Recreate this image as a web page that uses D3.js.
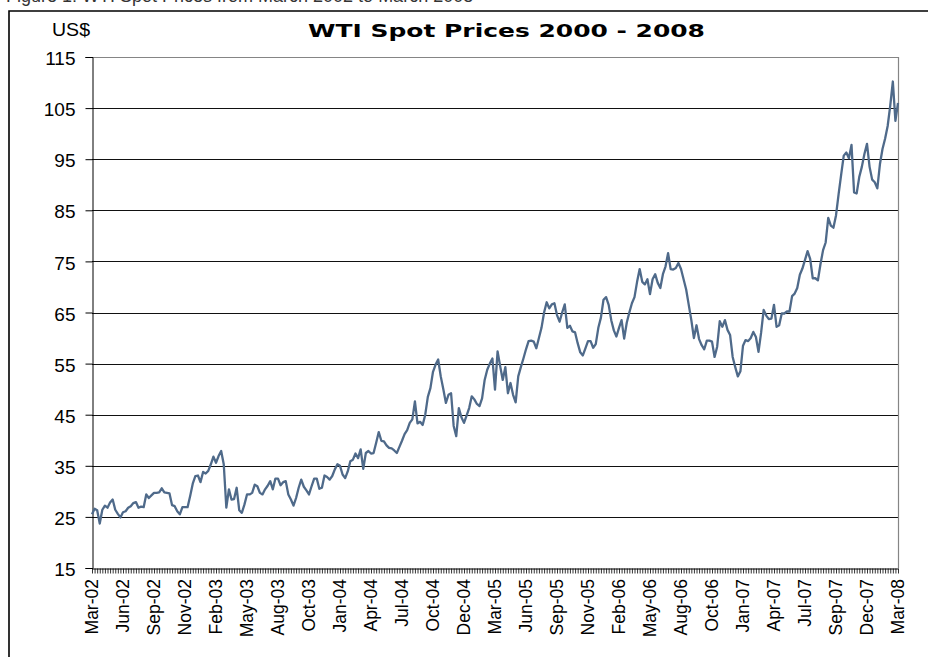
<!DOCTYPE html>
<html>
<head>
<meta charset="utf-8">
<script src="https://cdn.jsdelivr.net/npm/d3@7"></script>
<style>
  body { margin: 0; background: #fff; }
  svg { display: block; }
</style>
</head>
<body>
<div id="chart"></div>
<script>
var w = 928;
var h = 657;

// weekly WTI spot price, US$ (Mar-02 .. Mar-08)
var prices = [
  25.5, 26.6, 26.3, 23.7, 26.4, 27.2, 26.8, 27.8, 28.4, 26.4,
  25.6, 24.9, 25.9, 26.1, 26.8, 27.1, 27.7, 27.9, 26.8, 27.0,
  26.9, 29.4, 28.7, 29.2, 29.7, 29.7, 29.8, 30.6, 29.8, 29.7,
  29.6, 27.3, 27.1, 26.1, 25.5, 26.9, 26.9, 26.9, 29.1, 31.5,
  33.0, 33.1, 31.8, 33.8, 33.5, 34.0, 35.3, 36.8, 35.6, 36.9,
  37.9, 35.3, 26.8, 30.4, 28.4, 28.5, 30.7, 26.3, 25.8, 27.4,
  29.4, 29.4, 29.7, 31.3, 31.0, 29.7, 29.4, 30.4, 31.1, 32.0,
  30.4, 32.5, 32.5, 31.2, 31.8, 32.0, 29.4, 28.4, 27.2, 28.7,
  30.7, 32.3, 30.9, 30.2, 29.4, 31.0, 32.5, 32.5, 30.5, 30.7,
  33.1, 32.8, 32.3, 33.0, 34.3, 35.3, 35.0, 33.3, 32.6, 33.9,
  35.9, 36.2, 37.4, 36.5, 38.2, 34.4, 37.5, 37.9, 37.4, 37.5,
  39.5, 41.6, 39.9, 39.8, 39.0, 38.5, 38.4, 38.0, 37.5, 38.7,
  39.9, 41.2, 42.0, 43.4, 44.1, 47.6, 43.3, 43.6, 43.0, 45.0,
  48.5, 50.2, 53.4, 54.8, 55.8, 52.5, 50.0, 47.3, 48.9, 49.2,
  42.8, 40.8, 46.3, 44.5, 43.4, 44.8, 46.3, 48.6, 48.0, 47.1,
  46.7, 48.2, 51.8, 53.8, 55.0, 56.0, 49.9, 57.4, 54.5, 51.8,
  54.3, 49.2, 51.2, 48.9, 47.4, 52.5, 54.3, 56.0, 57.8, 59.4,
  59.5, 59.3, 58.0, 60.0, 62.0, 65.0, 67.0, 65.8, 66.6, 66.8,
  64.5, 63.2, 65.0, 66.6, 62.0, 62.4, 61.3, 61.1, 59.0, 57.2,
  56.6, 58.0, 59.4, 59.4, 58.1, 58.8, 62.0, 64.0, 67.5, 68.0,
  66.5, 63.5, 61.5, 60.3, 62.0, 63.5, 59.9, 63.0, 65.0, 66.8,
  68.0, 71.0, 73.5, 71.0, 70.5, 71.5, 68.6, 71.5, 72.5, 70.8,
  69.8, 72.5, 74.0, 76.6, 73.5, 73.4, 73.7, 74.7, 73.5, 71.5,
  69.5, 66.5, 63.5, 60.0, 62.5, 59.8, 58.6, 57.8, 59.5, 59.5,
  59.3, 56.3, 58.3, 63.3, 62.2, 63.5, 61.6, 60.6, 56.3, 54.3,
  52.5, 53.5, 58.5, 59.6, 59.4, 60.0, 61.2, 60.2, 57.3, 61.0,
  65.5, 64.4, 63.7, 63.8, 66.5, 62.2, 62.5, 64.8, 64.8, 65.2,
  65.2, 68.2, 68.7, 69.8, 72.4, 73.6, 75.3, 77.0, 75.5, 71.7,
  71.7, 71.3, 74.5, 77.2, 78.7, 83.5, 82.0, 81.6, 84.0, 88.1,
  92.0, 95.7, 96.3, 95.2, 97.8, 88.5, 88.3, 91.5, 93.5, 96.0,
  98.0, 93.5, 91.0, 90.5, 89.3, 94.0, 97.0, 99.0, 101.5, 105.5,
  110.2, 102.5, 106.0
];

// category labels shown every 12th week
var xLabels = [
  "Mar-02", "Jun-02", "Sep-02", "Nov-02", "Feb-03", "May-03", "Aug-03",
  "Oct-03", "Jan-04", "Apr-04", "Jul-04", "Oct-04", "Dec-04", "Mar-05",
  "Jun-05", "Sep-05", "Nov-05", "Feb-06", "May-06", "Aug-06", "Oct-06",
  "Jan-07", "Apr-07", "Jul-07", "Sep-07", "Dec-07", "Mar-08"
];
var labelStep = 12;

var yTicks = [15, 25, 35, 45, 55, 65, 75, 85, 95, 105, 115];

var plotLeft = 92, plotRight = 898, plotTop = 57, plotBottom = 568;

var xScale = d3
  .scaleLinear()
  .domain([0, prices.length - 1])
  .range([plotLeft, plotRight]);

var yScale = d3
  .scaleLinear()
  .domain([15, 115])
  .range([plotBottom, plotTop]);

var svg = d3.select("#chart").append("svg").attr("width", w).attr("height", h);

svg.append("rect").attr("width", w).attr("height", h).attr("fill", "#fff");

// caption cut off by the top of the picture
svg
  .append("text")
  .attr("x", 6)
  .attr("y", 2)
  .attr("font-family", "Liberation Sans, Arial, sans-serif")
  .attr("font-size", "18px")
  .attr("fill", "#333")
  .text("Figure 1: WTI Spot Prices from March 2002 to March 2008");

// outer chart border
svg
  .append("path")
  .attr("d", "M9," + (h + 2) + "V11H" + (w + 2))
  .attr("fill", "none")
  .attr("stroke", "#000")
  .attr("stroke-width", 1.6);

// gridlines
svg
  .selectAll("line.grid")
  .data(yTicks.slice(1, -1))
  .enter()
  .append("line")
  .attr("class", "grid")
  .attr("x1", plotLeft)
  .attr("x2", plotRight)
  .attr("y1", function (d) {
    return Math.round(yScale(d)) + 0.5;
  })
  .attr("y2", function (d) {
    return Math.round(yScale(d)) + 0.5;
  })
  .attr("stroke", "#111")
  .attr("stroke-width", 1);

// plot frame top and right
svg
  .append("path")
  .attr("d", "M" + plotLeft + "," + (plotTop + 0.5) + "H" + (plotRight + 0.5) + "V" + plotBottom)
  .attr("fill", "none")
  .attr("stroke", "#858585")
  .attr("stroke-width", 1.2);

// y axis
var yAxis = svg
  .append("g")
  .attr("transform", "translate(" + (plotLeft + 0.5) + ",0)")
  .call(d3.axisLeft(yScale).tickValues(yTicks).tickSize(7).tickPadding(10));
yAxis.select(".domain").attr("stroke", "#000");
yAxis.selectAll(".tick line").attr("stroke", "#000");
yAxis
  .selectAll("text")
  .attr("font-family", "Liberation Sans, Arial, sans-serif")
  .attr("font-size", "19px")
  .attr("fill", "#000")
  .attr("dy", "0.4em");

// x axis with a tick on every week
var xAxis = svg
  .append("g")
  .attr("transform", "translate(0," + (plotBottom + 0.5) + ")")
  .call(
    d3
      .axisBottom(xScale)
      .tickValues(d3.range(prices.length))
      .tickSize(5)
      .tickSizeOuter(0)
      .tickFormat("")
  );
xAxis.select(".domain").attr("stroke", "#000");
xAxis.selectAll(".tick line").attr("stroke", "#000").attr("stroke-width", 0.8);

svg
  .selectAll("text.xlab")
  .data(xLabels)
  .enter()
  .append("text")
  .attr("class", "xlab")
  .attr("transform", function (d, i) {
    return "translate(" + xScale(i * labelStep) + ",579) rotate(-90)";
  })
  .attr("text-anchor", "end")
  .attr("dy", "0.36em")
  .attr("font-family", "Liberation Sans, Arial, sans-serif")
  .attr("font-size", "17.5px")
  .attr("fill", "#000")
  .text(function (d) {
    return d;
  });

// price line
var line = d3
  .line()
  .x(function (d, i) {
    return xScale(i);
  })
  .y(function (d) {
    return yScale(d);
  });

svg
  .append("path")
  .datum(prices)
  .attr("d", line)
  .attr("fill", "none")
  .attr("stroke", "#4f6a8a")
  .attr("stroke-width", 2.3)
  .attr("stroke-linejoin", "round");

// title and unit
svg
  .append("text")
  .attr("x", 308)
  .attr("y", 37)
  .attr("textLength", 397)
  .attr("lengthAdjust", "spacingAndGlyphs")
  .attr("font-family", "DejaVu Sans, Verdana, sans-serif")
  .attr("font-weight", "bold")
  .attr("font-size", "17px")
  .attr("fill", "#000")
  .text("WTI Spot Prices 2000 - 2008");

svg
  .append("text")
  .attr("x", 52)
  .attr("y", 36)
  .attr("textLength", 38)
  .attr("lengthAdjust", "spacingAndGlyphs")
  .attr("font-family", "Liberation Sans, Arial, sans-serif")
  .attr("font-size", "18px")
  .attr("fill", "#000")
  .text("US$");
</script>
</body>
</html>
